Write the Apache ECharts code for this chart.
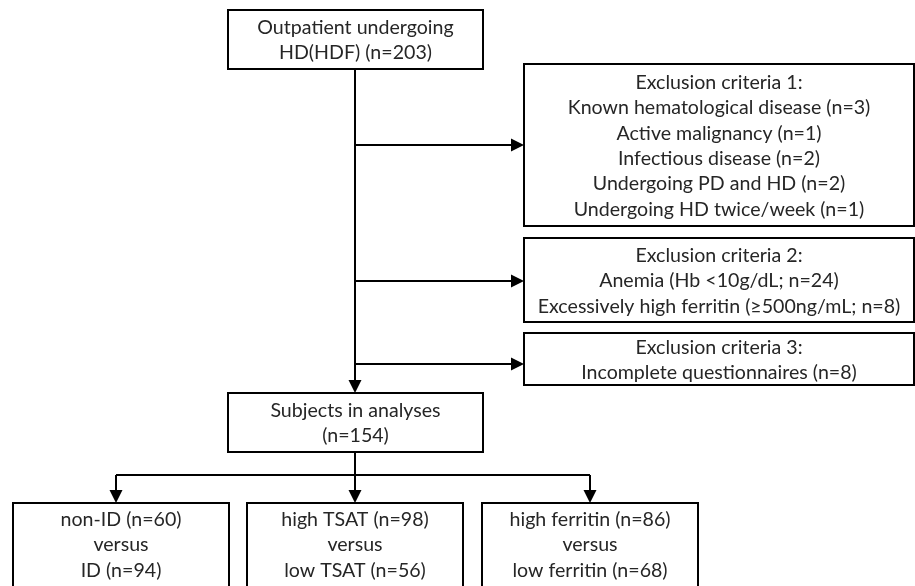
<!DOCTYPE html>
<html><head><meta charset="utf-8">
<script src="https://cdn.jsdelivr.net/npm/echarts@6/dist/echarts.min.js"></script>
<style>html,body{margin:0;padding:0;background:#fff}#c{width:915px;height:586px}</style>
</head><body><div id="c"></div>
<script>
// Box texts
const boxLabels = [
  "Outpatient undergoing\nHD(HDF) (n=203)",
  "Exclusion criteria 1:\nKnown hematological disease (n=3)\nActive malignancy (n=1)\nInfectious disease (n=2)\nUndergoing PD and HD (n=2)\nUndergoing HD twice/week (n=1)",
  "Exclusion criteria 2:\nAnemia (Hb <10g/dL; n=24)\nExcessively high ferritin (\u2265500ng/mL; n=8)",
  "Exclusion criteria 3:\nIncomplete questionnaires (n=8)",
  "Subjects in analyses\n(n=154)",
  "non-ID (n=60)\nversus\nID (n=94)",
  "high TSAT (n=98)\nversus\nlow TSAT (n=56)",
  "high ferritin (n=86)\nversus\nlow ferritin (n=68)"
];
// Box extents in diagram units
const boxX0 = [228, 524, 524, 524, 228, 13, 247, 482];
const boxX1 = [483, 914, 914, 914, 483, 229, 463, 698];
const boxY0 = [10, 64, 238, 333, 393, 503, 503, 503];
const boxY1 = [69, 226, 322, 385, 452, 620, 620, 620];
// Connectors: x1, y1, x2, y2, arrow (1/0)
const linkFromX = [355, 355, 355, 355, 355, 116, 116, 355, 590];
const linkFromY = [69, 145, 281, 364, 452, 475, 475, 475, 475];
const linkToX   = [355, 524, 524, 524, 355, 590, 116, 355, 590];
const linkToY   = [393, 145, 281, 364, 475, 475, 503, 503, 503];
const linkArrow = [1, 1, 1, 1, 0, 0, 1, 1, 1];

const W = 915, H = 586;
const chart = echarts.init(document.getElementById('c'), null, {renderer: 'canvas'});

const boxData = boxLabels.map((t, i) => [boxX0[i], boxY0[i], boxX1[i], boxY1[i], i]);
const linkData = linkFromX.map((x, i) => [x, linkFromY[i], linkToX[i], linkToY[i], linkArrow[i]]);

chart.setOption({
  animation: false,
  grid: {left: 0, right: 0, top: 0, bottom: 0},
  xAxis: {type: 'value', min: 0, max: W, show: false},
  yAxis: {type: 'value', min: 0, max: H, inverse: true, show: false},
  series: [
    {
      type: 'custom',
      coordinateSystem: 'cartesian2d',
      data: linkData,
      clip: false,
      renderItem: function (params, api) {
        const p1 = api.coord([api.value(0), api.value(1)]);
        const p2 = api.coord([api.value(2), api.value(3)]);
        const arrow = api.value(4);
        const dx = p2[0] - p1[0], dy = p2[1] - p1[1];
        const len = Math.sqrt(dx * dx + dy * dy);
        const ux = dx / len, uy = dy / len;
        const aL = 13, aW = 6.5;
        const end = arrow ? [p2[0] - ux * aL, p2[1] - uy * aL] : p2;
        const children = [{
          type: 'line',
          shape: {x1: p1[0], y1: p1[1], x2: end[0], y2: end[1]},
          style: {stroke: '#000', lineWidth: 2}
        }];
        if (arrow) {
          const px = -uy, py = ux;
          children.push({
            type: 'polygon',
            shape: {points: [
              [p2[0], p2[1]],
              [end[0] + px * aW, end[1] + py * aW],
              [end[0] - px * aW, end[1] - py * aW]
            ]},
            style: {fill: '#000'}
          });
        }
        return {type: 'group', children: children};
      }
    },
    {
      type: 'custom',
      coordinateSystem: 'cartesian2d',
      data: boxData,
      clip: false,
      renderItem: function (params, api) {
        const a = api.coord([api.value(0), api.value(1)]);
        const b = api.coord([api.value(2), api.value(3)]);
        const idx = api.value(4);
        const open = b[1] > H;
        const cx = (a[0] + b[0]) / 2;
        return {
          type: 'group',
          children: [
            {
              type: 'rect',
              shape: {x: a[0], y: a[1], width: b[0] - a[0], height: b[1] - a[1]},
              style: {fill: '#fff', stroke: '#000', lineWidth: 2}
            },
            {
              type: 'text',
              x: cx,
              y: open ? a[1] + 4 : (a[1] + b[1]) / 2 + 1,
              style: {
                text: boxLabels[idx],
                fill: '#262626',
                font: '19.6px Lato, "Open Sans", sans-serif',
                lineHeight: 25.3,
                align: 'center',
                verticalAlign: open ? 'top' : 'middle'
              }
            }
          ]
        };
      }
    }
  ]
});
</script></body></html>
